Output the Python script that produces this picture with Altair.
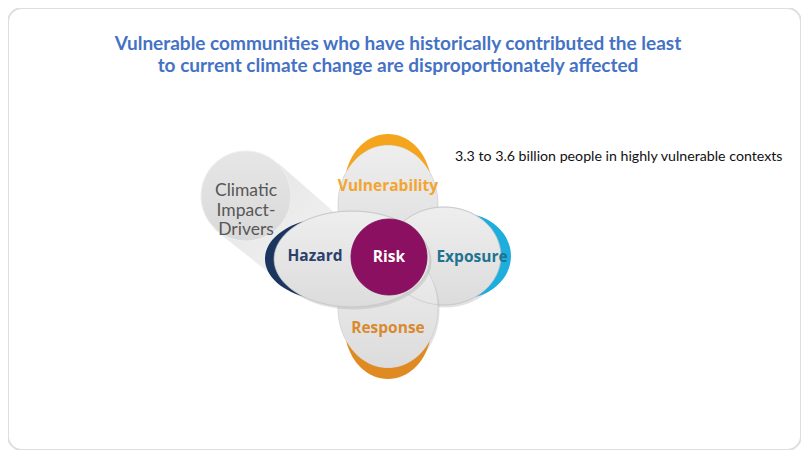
import math
import pandas as pd
import altair as alt

# ---------------- data ----------------
title_lines = [
    "Vulnerable communities who have historically contributed the least",
    "to current climate change are disproportionately affected",
]
title_y = [44, 66]
note_text = ["3.3 to 3.6 billion people in highly vulnerable contexts"]

# drivers circle and the band that links it to Hazard
driver_label = ["Climatic\nImpact-\nDrivers"]
driver_x = [246]
driver_y = [196]
driver_r = 45

# four overlapping lobes, drawn back to front
node_names = ["Vulnerability", "Exposure", "Response", "Hazard"]
node_x = [388, 444, 388, 352]
node_y = [205, 256, 308, 259]
node_rx = [50, 57, 50, 78]
node_ry = [60, 49, 60, 48]
accent_side = ["top", "right", "bottom", "left"]
accent_depth = [11, 10, 11, 9]
accent_end = [0.55, 0.55, 0.55, 0.62]
accent_color = ["#f5a41d", "#1eaede", "#e08b22", "#1b355e"]
label_color = ["#f2a531", "#1d7390", "#d98a2e", "#2c3f6b"]
label_x = [388, 472, 388, 315]
label_y = [186, 257, 328, 256]

risk_label = ["Risk"]
risk_x = [389]
risk_y = [257]
risk_r = 38
risk_color = "#8c1061"

FONT = "Lato"
LFONT = "Open Sans"

# ---------------- helpers ----------------
XS = alt.Scale(domain=[8, 801], nice=False, zero=False)
YS = alt.Scale(domain=[8, 450], nice=False, zero=False, reverse=True)


def enc(**extra):
    return dict(x=alt.X("x:Q", scale=XS, axis=None),
                y=alt.Y("y:Q", scale=YS, axis=None), **extra)


def ellipse_path(rx, ry):
    return (f"M{-rx},0A{rx},{ry},0,1,1,{rx},0"
            f"A{rx},{ry},0,1,1,{-rx},0Z")


def crescent_path(rx, ry, side, d, e):
    # canonical: crescent on top; chord axis radius rc, bulge axis radius rb
    if side in ("top", "bottom"):
        rc, rb = rx, ry
    else:
        rc, rb = ry, rx
    yp = -rb * e
    xp = rc * math.sqrt(1 - e * e)
    peak = -(rb + d)
    h = yp - peak
    q = rb / rc
    a = (q * q * xp * xp + h * h) / (2 * h * q)
    b = q * a
    cy = b + peak
    large = 1 if cy < yp else 0
    p1, p2 = (-xp, yp), (xp, yp)
    so, si = 1, 0
    ra, rb2 = a, b          # outer arc radii (chord-axis, bulge-axis)
    ia, ib = rc, rb         # inner arc radii

    if side == "top":
        tf = lambda p: (p[0], p[1]); swap = False; mirror = False
    elif side == "bottom":
        tf = lambda p: (p[0], -p[1]); swap = False; mirror = True
    elif side == "left":
        tf = lambda p: (p[1], p[0]); swap = True; mirror = True
    else:
        tf = lambda p: (-p[1], p[0]); swap = True; mirror = False
    if mirror:
        so, si = 1 - so, 1 - si
    if swap:
        ra, rb2 = rb2, ra
        ia, ib = ib, ia
    P1, P2 = tf(p1), tf(p2)
    return (f"M{P1[0]:.2f},{P1[1]:.2f}"
            f"A{ra:.2f},{rb2:.2f},0,{large},{so},{P2[0]:.2f},{P2[1]:.2f}"
            f"A{ia},{ib},0,0,{si},{P1[0]:.2f},{P1[1]:.2f}Z")


def grad(c0, c1, x2=0, y2=1):
    return {"gradient": "linear", "x1": 0, "y1": 0, "x2": x2, "y2": y2,
            "stops": [{"offset": 0, "color": c0}, {"offset": 1, "color": c1}]}


def symbol(df, path, fill, stroke="#ffffff", sw=0, op=1.0):
    return alt.Chart(df).mark_point(
        shape=path, size=4, filled=True, fill=fill, stroke=stroke,
        strokeWidth=sw, opacity=op, fillOpacity=1, strokeOpacity=1,
    ).encode(**enc())


layers = []

# band from drivers circle toward Hazard
dfd = pd.DataFrame({"x": driver_x, "y": driver_y, "t": driver_label})
band = "M32,-33L104,30L52,100L-32,33Z"
layers.append(symbol(dfd, band, grad("#e2e2e2", "#f6f6f6", 1, 1)))
layers.append(symbol(dfd, ellipse_path(driver_r, driver_r),
                     grad("#e6e6e6", "#d9d9d9"), "#efefef", 1))

# lobes
for i, name in enumerate(node_names):
    dfn = pd.DataFrame({"x": [node_x[i]], "y": [node_y[i]]})
    rx, ry = node_rx[i], node_ry[i]
    if name in ("Hazard", "Exposure", "Response"):
        dsh = pd.DataFrame({"x": [node_x[i] + 1.5], "y": [node_y[i] + 2.5]})
        layers.append(symbol(dsh, ellipse_path(rx, ry), "#a0a0a0", op=0.3))
    layers.append(symbol(dfn, ellipse_path(rx, ry),
                         grad("#eeeeee", "#dcdcdc"), "#d0d0d0", 0.8))
    layers.append(symbol(dfn, crescent_path(rx, ry, accent_side[i],
                                            accent_depth[i], accent_end[i]),
                         accent_color[i]))

# faint outlines of Hazard and Exposure seen through the others
for i in (1, 3):
    dfn = pd.DataFrame({"x": [node_x[i]], "y": [node_y[i]]})
    layers.append(alt.Chart(dfn).mark_point(
        shape=ellipse_path(node_rx[i], node_ry[i]), size=4, filled=False,
        stroke="#c4c4c4", strokeWidth=0.8, opacity=0.8).encode(**enc()))

# risk
dfr = pd.DataFrame({"x": risk_x, "y": risk_y, "t": risk_label})
layers.append(symbol(dfr, ellipse_path(risk_r, risk_r), risk_color, "#7a0d55", 0.8))

# labels
dfl = pd.DataFrame({"x": label_x, "y": label_y, "t": node_names, "c": label_color})
layers.append(alt.Chart(dfl).mark_text(
    font=LFONT, fontWeight="bold", fontSize=15.5, align="center", baseline="middle"
).encode(**enc(text="t:N", color=alt.Color("c:N", scale=None))))

layers.append(alt.Chart(dfr).mark_text(
    font=LFONT, fontWeight="bold", fontSize=15.5, align="center", baseline="middle",
    color="#ffffff").encode(**enc(text="t:N")))

layers.append(alt.Chart(dfd.assign(y=[191])).mark_text(
    font=FONT, fontSize=17.5, align="center", baseline="middle", lineBreak="\n",
    lineHeight=19.5, color="#575757").encode(**enc(text="t:N")))

# title and note
dft = pd.DataFrame({"x": [398, 398], "y": title_y, "t": title_lines})
layers.append(alt.Chart(dft).mark_text(
    font=FONT, fontWeight="bold", fontSize=19, align="center", baseline="middle",
    color="#4472c4").encode(**enc(text="t:N")))

dfo = pd.DataFrame({"x": [455], "y": [157], "t": note_text})
layers.append(alt.Chart(dfo).mark_text(
    font=FONT, fontSize=14.2, align="left", baseline="middle",
    color="#111111").encode(**enc(text="t:N")))

chart = alt.layer(*layers).properties(
    width=793, height=442, padding=0, autosize="none", background="#ffffff"
).configure_view(stroke="#dedede", strokeWidth=2, cornerRadius=14)

chart.save("out.html", embed_options={"renderer": "svg", "actions": False})
